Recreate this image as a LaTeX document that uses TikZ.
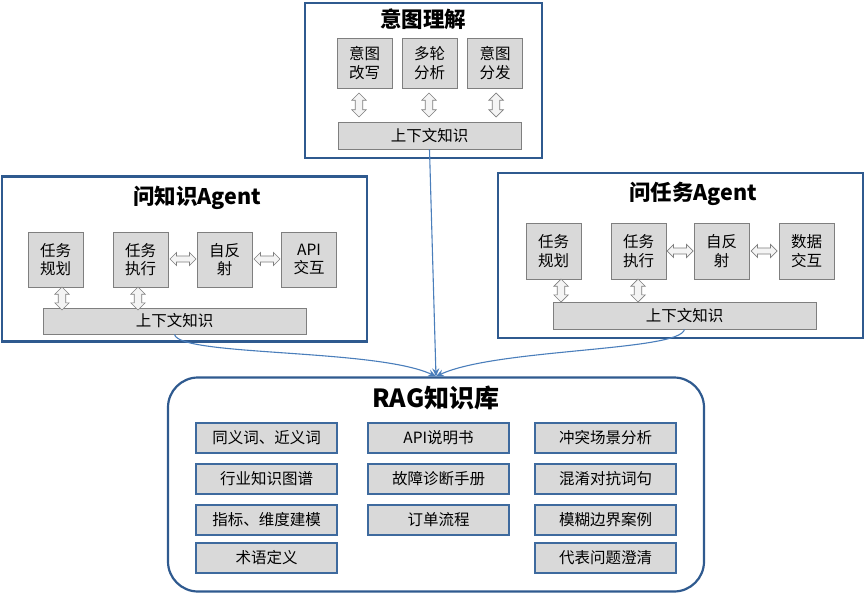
\documentclass[tikz,border=0pt]{standalone}
\usepackage{fontspec}
\setmainfont{Noto Sans CJK SC}
\usetikzlibrary{shapes.arrows,arrows.meta,calc}
\definecolor{outerblue}{HTML}{2F5A8F}
\definecolor{innerblue}{HTML}{3E6A9E}
\definecolor{boxgray}{HTML}{D9D9D9}
\definecolor{edgegray}{HTML}{7F7F7F}
\definecolor{arrfill}{HTML}{F4F4F4}
\definecolor{linkblue}{HTML}{4A7EBB}
\tikzset{
  outerbox/.style={draw=outerblue, line width=2.2pt, fill=white, minimum width=#1, inner sep=0pt},
  graybox/.style={draw=edgegray, line width=0.9pt, fill=boxgray, minimum width=55pt, minimum height=55pt, inner sep=0pt, align=center, font=\fontsize{15.5}{18.5}\selectfont},
  barbox/.style={draw=edgegray, line width=0.9pt, fill=boxgray, minimum height=27pt, inner sep=0pt, font=\fontsize{15.5}{18.5}\selectfont},
  ragitem/.style={draw=innerblue, line width=2pt, fill=boxgray, minimum width=141pt, minimum height=30pt, inner sep=0pt, font=\fontsize{15.5}{18.5}\selectfont},
  titletext/.style={font=\bfseries\fontsize{21.5}{25}\selectfont, inner sep=0pt},
  dblarr/.style={double arrow, draw=edgegray, fill=arrfill, line width=0.7pt, inner sep=2.7pt, double arrow head extend=3.4pt, double arrow head indent=0pt, minimum height=#1},
  vdblarr/.style={dblarr=#1, rotate=90, inner sep=3.4pt, double arrow head extend=3.4pt},
  link/.style={draw=linkblue, line width=1.1pt, -{Stealth[length=8pt,width=7pt]}},
}
\begin{document}
\begin{tikzpicture}[x=1pt,y=-1pt]
\useasboundingbox (0,0) rectangle (865,594);
% ---------- top box
\node[outerbox=237pt, minimum height=155pt] (topbox) at (423.5,80.5) {};
\node[titletext] (toptitle) at (423,19) {意图理解};
\node[graybox, minimum height=50pt] (t1) at (364.5,63) {意图\\改写};
\node[graybox, minimum height=50pt] (t2) at (429.5,63) {多轮\\分析};
\node[graybox, minimum height=50pt] (t3) at (495,63) {意图\\分发};
\node[barbox, minimum width=183pt] (tbar) at (429.5,135.5) {上下文知识};
\node[vdblarr=24pt] (ta1) at (359,105) {};
\node[vdblarr=24pt] (ta2) at (429,105) {};
\node[vdblarr=24pt] (ta3) at (496,105) {};
% ---------- left agent
\node[outerbox=365pt, minimum height=165pt] (lbox) at (184.5,259) {};
\node[titletext] (ltitle) at (197,198) {问知识Agent};
\node[graybox] (l1) at (55.5,259.5) {任务\\规划};
\node[graybox] (l2) at (140.5,259.5) {任务\\执行};
\node[graybox] (l3) at (224.5,259.5) {自反\\射};
\node[graybox] (l4) at (309,259.5) {API\\交互};
\node[barbox, minimum width=263pt, minimum height=26pt] (lbar) at (174.5,321) {上下文知识};
\node[vdblarr=23pt] (la1) at (62,298.5) {};
\node[vdblarr=23pt] (la2) at (138,298.5) {};
\node[dblarr=26pt] (la3) at (183,259) {};
\node[dblarr=26pt] (la4) at (267,259) {};
% ---------- right agent
\node[outerbox=365pt, minimum height=165pt] (rbox) at (680.5,255.5) {};
\node[titletext] (rtitle) at (693,194) {问任务Agent};
\node[graybox, minimum height=56pt] (r1) at (553.5,251) {任务\\规划};
\node[graybox, minimum height=56pt] (r2) at (638.5,251) {任务\\执行};
\node[graybox, minimum height=56pt] (r3) at (721.5,251) {自反\\射};
\node[graybox, minimum height=56pt] (r4) at (806.5,251) {数据\\交互};
\node[barbox, minimum width=263pt] (rbar) at (684.5,315.5) {上下文知识};
\node[vdblarr=23pt] (ra1) at (561,290.5) {};
\node[vdblarr=23pt] (ra2) at (638,290.5) {};
\node[dblarr=26pt] (ra3) at (680,251) {};
\node[dblarr=26pt] (ra4) at (764,251) {};
% ---------- RAG box
\node[draw=outerblue, line width=2.2pt, fill=white, rounded corners=30pt, minimum width=536pt, minimum height=214pt, inner sep=0pt] (rag) at (436,484.5) {};
\node[titletext, font=\bfseries\fontsize{25}{29}\selectfont] (ragtitle) at (436,398) {RAG知识库};
\node[ragitem] (a1) at (266.5,438) {同义词、近义词};
\node[ragitem] (a2) at (266.5,479) {行业知识图谱};
\node[ragitem] (a3) at (266.5,520) {指标、维度建模};
\node[ragitem] (a4) at (266.5,558) {术语定义};
\node[ragitem] (b1) at (438.5,438) {API说明书};
\node[ragitem] (b2) at (438.5,479) {故障诊断手册};
\node[ragitem] (b3) at (438.5,520) {订单流程};
\node[ragitem] (c1) at (605.5,438) {冲突场景分析};
\node[ragitem] (c2) at (605.5,479) {混淆对抗词句};
\node[ragitem] (c3) at (605.5,520) {模糊边界案例};
\node[ragitem] (c4) at (605.5,558) {代表问题澄清};
% ---------- connectors
\draw[link] (lbar.south) .. controls ($(lbar.south)+(5,22)$) and ($(rag.north)+(-60,-28)$) .. (rag.north);
\draw[link] (rbar.south) .. controls ($(rbar.south)+(-5,22)$) and ($(rag.north)+(60,-28)$) .. (rag.north);
\draw[link] (tbar.south) -- (rag.north);
\end{tikzpicture}
\end{document}
